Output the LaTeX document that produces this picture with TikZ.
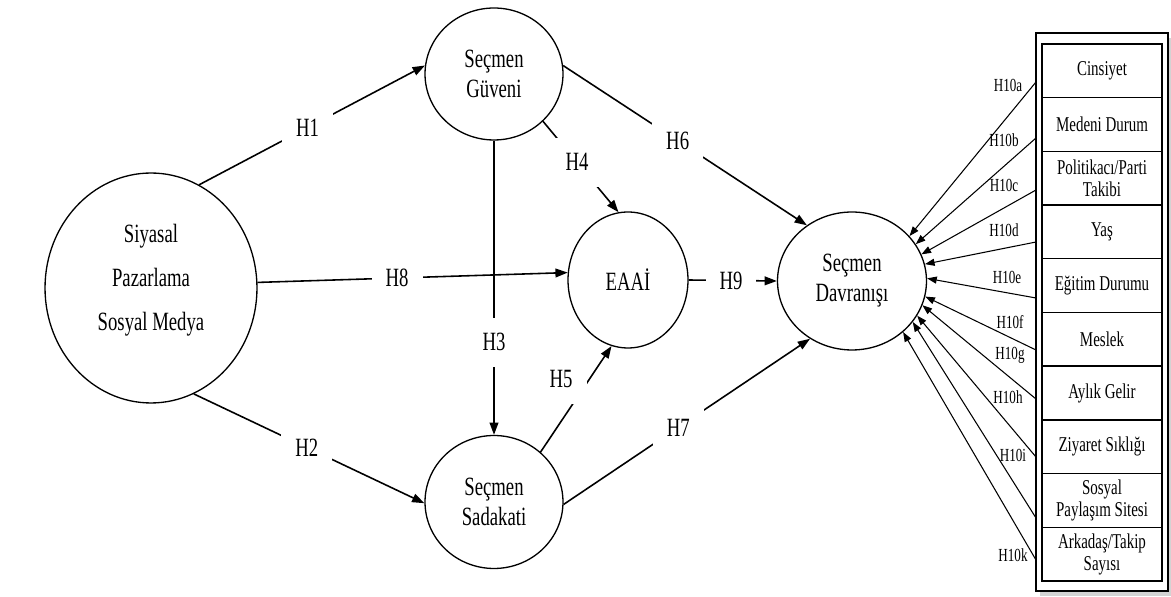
\documentclass[tikz,border=0pt]{standalone}
\usepackage{fontspec}
\usepackage{tikz}
\usetikzlibrary{positioning}
\usetikzlibrary{shapes.geometric,arrows.meta,shadows}
\newfontfamily\tnr[FakeStretch=0.71]{Liberation Serif}

\begin{document}
\begin{tikzpicture}
           [x=0.02cm, y=-0.02cm,
            construct/.style = {draw, ellipse, line width=0.75pt, inner sep=0pt, align=center,
                                font=\tnr\fontsize{15}{17}\selectfont},
            hyp/.style = {-{Triangle[length=7pt,width=5pt]}, line width=0.9pt},
            hlab/.style = {fill=white, inner xsep=8pt, inner ysep=9pt,
                           font=\tnr\fontsize{15}{17}\selectfont},
            ctl/.style = {-{Triangle[length=5.5pt,width=4pt]}, line width=0.6pt},
            clab/.style = {inner sep=0pt, font=\tnr\fontsize{10.5}{12}\selectfont},
            cell/.style = {draw, line width=0.8pt, minimum width=2.4cm, minimum height=1.074cm,
                           inner sep=0pt, outer sep=0pt, align=center,
                           font=\tnr\fontsize{12}{12.5}\selectfont}]
            \useasboundingbox (0,0) rectangle (1171,597);

            \node[construct, minimum width=4.24cm, minimum height=4.6cm, text depth=12pt] (spsm) at (151,288)
                {Siyasal\\[8pt]Pazarlama\\[8pt]Sosyal Medya};
            \node[construct, minimum width=2.76cm, minimum height=2.64cm] (guven) at (494,74) {Seçmen\\Güveni};
            \node[construct, minimum width=2.76cm, minimum height=2.66cm] (sadakat) at (494,502) {Seçmen\\Sadakati};
            \node[construct, minimum width=2.4cm, minimum height=2.72cm] (eaai) at (628,280) {EAAİ};
            \node[construct, minimum width=2.98cm, minimum height=2.76cm] (davranis) at (852,281) {Seçmen\\Davranışı};

            \path[hyp] (spsm.65) edge node[hlab, pos=0.48] {H1} (guven.173);
            \path[hyp] (spsm.-68) edge node[hlab, pos=0.49] {H2} (sadakat.181);
            \path[hyp] (spsm.3) edge node[hlab, pos=0.45] {H8} (eaai.173);
            \path[hyp] (guven.south) edge node[hlab, pos=0.685] {H3} (sadakat.north);
            \path[hyp] (guven.316) edge node[hlab, pos=0.45] {H4} (eaai.98);
            \path[hyp] (guven.7) edge node[hlab, pos=0.47] {H6} (davranis.129);
            \path[hyp] (eaai.east) edge node[hlab, pos=0.48] {H9} (davranis.west);
            \path[hyp] (sadakat.47) edge node[hlab, pos=0.6, xshift=-0.44cm, yshift=0.18cm] {H5} (eaai.256);
            \path[hyp] (sadakat.-2) edge node[hlab, pos=0.465] {H7} (davranis.234);

            % control variables
            \node[draw, line width=0.9pt, fill=white, minimum width=2.64cm, minimum height=11.16cm,
                  drop shadow={shadow xshift=2pt, shadow yshift=-3pt, opacity=0.35}] (ctrl) at (1102,312) {};
            \node[cell] (c1) at (1102,70.85) {Cinsiyet};
            \node[cell, below=0pt of c1] (c2) {Medeni Durum};
            \node[cell, below=0pt of c2] (c3) {Politikacı/Parti\\Takibi};
            \node[cell, below=0pt of c3] (c4) {Yaş};
            \node[cell, below=0pt of c4] (c5) {Eğitim Durumu};
            \node[cell, below=0pt of c5] (c6) {Meslek};
            \node[cell, below=0pt of c6] (c7) {Aylık Gelir};
            \node[cell, below=0pt of c7] (c8) {Ziyaret Sıklığı};
            \node[cell, below=0pt of c8] (c9) {Sosyal\\Paylaşım Sitesi};
            \node[cell, below=0pt of c9] (c10) {Arkadaş/Takip\\Sayısı};

            \coordinate (pa) at (1036,82);
            \coordinate (pb) at (1036,138);
            \coordinate (pc) at (1036,190);
            \coordinate (pd) at (1036,242);
            \coordinate (pe) at (1036,298);
            \coordinate (pf) at (1036,350);
            \coordinate (pg) at (1036,399);
            \coordinate (ph) at (1036,457);
            \coordinate (pi) at (1036,518);
            \coordinate (pk) at (1036,560);

            \path[ctl] (pa) edge (davranis.38);
            \path[ctl] (pb) edge (davranis.30);
            \path[ctl] (pc) edge (davranis.21);
            \path[ctl] (pd) edge (davranis.13);
            \path[ctl] (pe) edge (davranis.2);
            \path[ctl] (pf) edge (davranis.-12);
            \path[ctl] (pg) edge (davranis.-19);
            \path[ctl] (ph) edge (davranis.-28);
            \path[ctl] (pi) edge (davranis.-34);
            \path[ctl] (pk) edge (davranis.-45);

            \node[clab] (la) at (1008,85) {H10a};
            \node[clab] (lb) at (1004,140) {H10b};
            \node[clab] (lc) at (1004,185) {H10c};
            \node[clab] (ld) at (1004,230) {H10d};
            \node[clab] (le) at (1007,277) {H10e};
            \node[clab] (lf) at (1010,322) {H10f};
            \node[clab] (lg) at (1010,355) {H10g};
            \node[clab] (lh) at (1008,397) {H10h};
            \node[clab] (li) at (1013,455) {H10i};
            \node[clab] (lk) at (1013,555) {H10k};
        \end{tikzpicture}
\end{document}
